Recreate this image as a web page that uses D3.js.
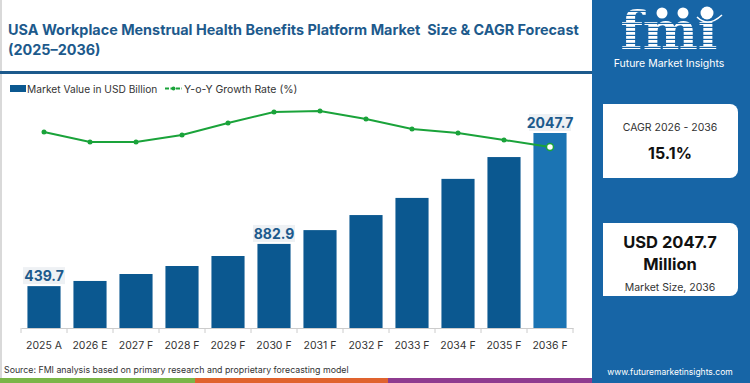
<!DOCTYPE html>
<html>
<head>
<meta charset="utf-8">
<title>USA Workplace Menstrual Health Benefits Platform Market</title>
<script src="https://cdnjs.cloudflare.com/ajax/libs/d3/7.8.5/d3.min.js"></script>
<style>
  body { margin: 0; background: #fff; }
  svg { display: block; font-family: Inter, "Open Sans", sans-serif; }
  text { white-space: pre; }
</style>
</head>
<body>
<div id="vis"></div>
<script>
// chart data
var years = ['2025 A', '2026 E', '2027 F', '2028 F', '2029 F', '2030 F', '2031 F', '2032 F', '2033 F', '2034 F', '2035 F', '2036 F'];
var marketValue = [439.7, 494, 567, 651, 756, 882.9, 1028, 1186, 1366, 1566, 1795, 2047.7];
var yoyGrowth = [14.8, 13.8, 13.8, 14.5, 15.7, 16.8, 16.9, 16.1, 15.1, 14.7, 14.0, 13.3];
var labelled = ['2025 A', '2030 F', '2036 F'];

var W = 750, H = 383;
var svg = d3.select('#vis').append('svg').attr('width', W).attr('height', H);

// frame
svg.append('line').attr('x1', 1).attr('x2', 1).attr('y1', 0).attr('y2', 378)
  .attr('stroke', '#d9d9d9').attr('stroke-width', 2);

// title
var title = svg.append('text').attr('x', 8).attr('fill', '#1d5a8c')
  .attr('font-weight', 700).attr('font-size', 14.4);
title.append('tspan').attr('x', 8).attr('y', 35)
  .text('USA Workplace Menstrual Health Benefits Platform Market  Size & CAGR Forecast');
title.append('tspan').attr('x', 8).attr('y', 55).text('(2025\u20132036)');

svg.append('rect').attr('x', 0).attr('y', 71).attr('width', 592).attr('height', 3).attr('fill', '#1d5a8c');

// legend
svg.append('rect').attr('x', 10).attr('y', 85).attr('width', 16).attr('height', 7).attr('fill', '#0b5890');
svg.append('text').attr('x', 27).attr('y', 92.5).attr('font-size', 10.2).attr('fill', '#333')
  .text('Market Value in USD Billion');
svg.append('line').attr('x1', 165).attr('x2', 182).attr('y1', 88.5).attr('y2', 88.5)
  .attr('stroke', '#1aa33a').attr('stroke-width', 2).attr('stroke-dasharray', '4,1.5');
svg.append('circle').attr('cx', 173.5).attr('cy', 88.5).attr('r', 2).attr('fill', '#1aa33a');
svg.append('text').attr('x', 184).attr('y', 92.5).attr('font-size', 10.5).attr('fill', '#333')
  .text('Y-o-Y Growth Rate (%)');

// scales
var x = d3.scaleBand().domain(years).range([21, 573]).paddingInner(0.28).paddingOuter(0.14);
var y = d3.scaleLinear().domain([0, 2047.7]).range([328, 133]);
var yLine = d3.scaleLinear().domain([10, 20]).range([180, 80]);

// bars
svg.selectAll('rect.bar').data(years).enter().append('rect')
  .attr('class', 'bar')
  .attr('x', function(d) { return x(d); })
  .attr('y', function(d, i) { return y(marketValue[i]); })
  .attr('width', x.bandwidth())
  .attr('height', function(d, i) { return 328 - y(marketValue[i]); })
  .attr('fill', function(d, i) { return i === years.length - 1 ? '#1b74b3' : '#0b5890'; });

// axis
var axis = svg.append('g').attr('transform', 'translate(0,328)')
  .call(d3.axisBottom(x).tickSize(0).tickPadding(14));
axis.select('.domain').attr('stroke', '#ccc');
axis.selectAll('text').attr('font-size', 10.5).attr('fill', '#333').attr('font-family', 'Inter, sans-serif');
var step = x.step();
svg.selectAll('line.tick').data(d3.range(years.length + 1)).enter().append('line')
  .attr('x1', function(d) { return 21 + d * step; })
  .attr('x2', function(d) { return 21 + d * step; })
  .attr('y1', 328).attr('y2', 333).attr('stroke', '#ccc');

// value labels
var labs = svg.selectAll('g.vlab').data(labelled).enter().append('g').attr('class', 'vlab');
labs.append('rect')
  .attr('x', function(d) { return x(d) + x.bandwidth() / 2 - 21; })
  .attr('y', function(d) { return y(marketValue[years.indexOf(d)]) - 19; })
  .attr('width', 42).attr('height', 17).attr('fill', '#eef1f4');
labs.append('text')
  .attr('x', function(d) { return x(d) + x.bandwidth() / 2; })
  .attr('y', function(d) { return y(marketValue[years.indexOf(d)]) - 5; })
  .attr('text-anchor', 'middle').attr('font-size', 14).attr('font-weight', 700).attr('fill', '#1d5a8c')
  .text(function(d) { return marketValue[years.indexOf(d)].toFixed(1); });

// growth line
var line = d3.line()
  .x(function(d, i) { return x(years[i]) + x.bandwidth() / 2; })
  .y(function(d) { return yLine(d); });
svg.append('path').datum(yoyGrowth).attr('d', line)
  .attr('fill', 'none').attr('stroke', '#1aa33a').attr('stroke-width', 2);
svg.selectAll('circle.pt').data(yoyGrowth).enter().append('circle')
  .attr('class', 'pt')
  .attr('cx', function(d, i) { return x(years[i]) + x.bandwidth() / 2; })
  .attr('cy', function(d) { return yLine(d); })
  .attr('r', function(d, i) { return i === yoyGrowth.length - 1 ? 3.5 : 2.5; })
  .attr('fill', function(d, i) { return i === yoyGrowth.length - 1 ? '#fff' : '#1aa33a'; })
  .attr('stroke', '#1aa33a').attr('stroke-width', function(d, i) { return i === yoyGrowth.length - 1 ? 1.5 : 0; });

// source + stripe
svg.append('text').attr('x', 4).attr('y', 373).attr('font-size', 8.8).attr('fill', '#333')
  .text('Source: FMI analysis based on primary research and proprietary forecasting model');
var stripe = [['#7ab648', 0, 195], ['#e0632e', 195, 388], ['#8e3b8f', 388, 592]];
svg.selectAll('rect.stripe').data(stripe).enter().append('rect')
  .attr('x', function(d) { return d[1]; }).attr('y', 378)
  .attr('width', function(d) { return d[2] - d[1]; }).attr('height', 5)
  .attr('fill', function(d) { return d[0]; });

// right panel
var panel = svg.append('g');
panel.append('rect').attr('x', 592).attr('y', 0).attr('width', 158).attr('height', H).attr('fill', '#1765a6');

var defs = svg.append('defs');
var pat = defs.append('pattern').attr('id', 'stripes').attr('patternUnits', 'userSpaceOnUse')
  .attr('width', 4).attr('height', 4);
pat.append('rect').attr('width', 4).attr('height', 4).attr('fill', '#fff');
pat.append('rect').attr('y', 2.8).attr('width', 4).attr('height', 1.2).attr('fill', '#1765a6');

panel.append('text').attr('x', 669).attr('y', 49).attr('text-anchor', 'middle')
  .attr('font-family', '"DejaVu Serif", serif').attr('font-weight', 700).attr('font-size', 52)
  .attr('fill', 'url(#stripes)').text('fm\u0131');
[[662, 13, 5.5], [683, 13, 5.5], [707, 13, 6.5]].forEach(function(c) {
  panel.append('circle').attr('cx', c[0]).attr('cy', c[1]).attr('r', c[2]).attr('fill', '#fff');
});
panel.append('path').attr('d', 'M697,17 Q708,28 722,15').attr('fill', 'none')
  .attr('stroke', '#fff').attr('stroke-width', 1.5);
panel.append('text').attr('x', 669).attr('y', 67).attr('text-anchor', 'middle')
  .attr('font-size', 10.5).attr('fill', '#fff').text('Future Market Insights');

function card(y0, h) {
  panel.append('path')
    .attr('d', 'M603,' + y0 + 'H730a8,8 0 0 1 8,8V' + (y0 + h - 8) + 'a8,8 0 0 1 -8,8H603Z')
    .attr('fill', '#fff');
}
card(104, 74);
card(223, 73);
panel.append('text').attr('x', 670).attr('y', 131).attr('text-anchor', 'middle')
  .attr('font-size', 10.5).attr('fill', '#333').text('CAGR 2026 - 2036');
panel.append('text').attr('x', 670).attr('y', 159).attr('text-anchor', 'middle')
  .attr('font-size', 16).attr('font-weight', 700).attr('fill', '#111').text('15.1%');
panel.append('text').attr('x', 670).attr('y', 248).attr('text-anchor', 'middle')
  .attr('font-size', 16.5).attr('font-weight', 700).attr('fill', '#111').text('USD 2047.7');
panel.append('text').attr('x', 670).attr('y', 270).attr('text-anchor', 'middle')
  .attr('font-size', 16.5).attr('font-weight', 700).attr('fill', '#111').text('Million');
panel.append('text').attr('x', 670).attr('y', 291).attr('text-anchor', 'middle')
  .attr('font-size', 10.5).attr('fill', '#333').text('Market Size, 2036');
panel.append('text').attr('x', 670).attr('y', 375).attr('text-anchor', 'middle')
  .attr('font-size', 8.5).attr('fill', '#fff').text('www.futuremarketinsights.com');
</script>
</body>
</html>
